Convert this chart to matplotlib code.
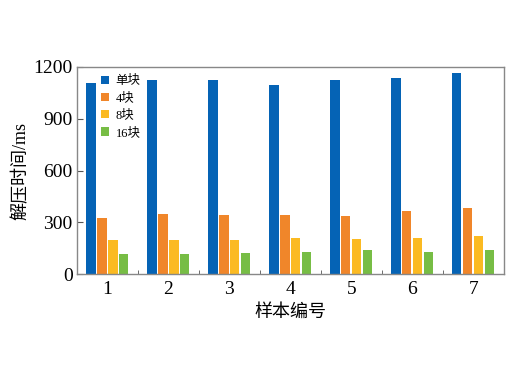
import numpy as np
import matplotlib
matplotlib.use('Agg')
import matplotlib.pyplot as plt
from matplotlib.ticker import FixedLocator

plt.rcParams['font.family'] = ['Liberation Serif', 'Noto Sans CJK SC']

# data
samples = ['1', '2', '3', '4', '5', '6', '7']
series_names = ['单块', '4块', '8块', '16块']
single = [1106, 1123, 1122, 1096, 1123, 1139, 1164]
block4 = [323, 346, 342, 342, 336, 365, 383]
block8 = [200, 200, 200, 210, 202, 210, 221]
block16 = [119, 115, 125, 127, 138, 129, 142]
colors = ['#0563B5', '#F0862A', '#FBBA22', '#77BD45']

fig = plt.figure(figsize=(5.2, 3.68), dpi=100)
ax = fig.add_axes([0.148, 0.255, 0.821, 0.563])

x = np.arange(1, len(samples) + 1)
step = 0.18
for i, (vals, name) in enumerate(zip([single, block4, block8, block16], series_names)):
    ax.bar(x + (i - 1.5) * step, vals, width=0.15, color=colors[i], label=name, zorder=2)

ax.set_xlim(0.5, 7.5)
ax.set_ylim(0, 1200)
ax.set_yticks([0, 300, 600, 900, 1200])
ax.set_xticks(x)
ax.set_xticklabels(samples)
ax.xaxis.set_minor_locator(FixedLocator(np.arange(1.5, 7.5, 1)))
ax.tick_params(axis='x', which='major', length=0, labelsize=14, pad=5)
ax.tick_params(axis='x', which='minor', direction='in', length=3, color='#555555')
ax.tick_params(axis='y', direction='in', length=4, labelsize=14, color='#555555', pad=3)

for s in ax.spines.values():
    s.set_color('#888888')
    s.set_linewidth(1.0)

ax.set_xlabel('样本编号', fontsize=13, labelpad=4)
ax.set_ylabel('解压时间/ms', fontsize=13, labelpad=3)

leg = ax.legend(loc='upper left', bbox_to_anchor=(0.038, 1.0), frameon=False, fontsize=9,
                handlelength=0.65, handleheight=0.65, handletextpad=0.5, labelspacing=0.42,
                borderaxespad=0.25)

fig.savefig('out.png', dpi=100)
